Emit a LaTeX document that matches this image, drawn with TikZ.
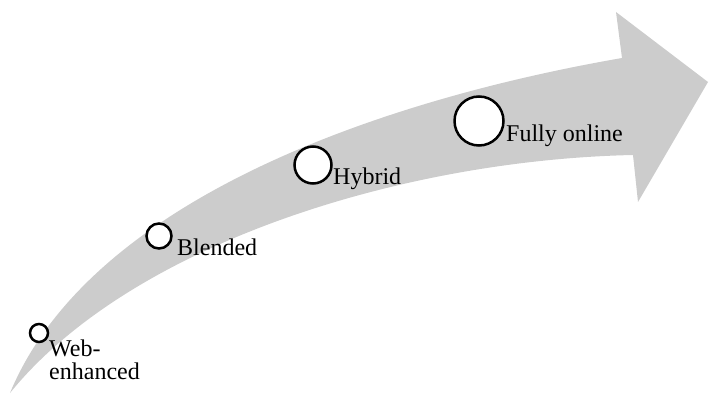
\documentclass[tikz,border=0pt]{standalone}
\usepackage{fontspec}
\setmainfont{Liberation Serif}
\definecolor{arrowgrey}{HTML}{CCCCCC}
\tikzset{
  stage/.style={circle, draw=black, line width=2.5pt, fill=white, inner sep=0pt},
  stagelabel/.style={anchor=base west, inner sep=0pt, font=\fontsize{24}{23}\selectfont},
}
\begin{document}
\begin{tikzpicture}[x=1pt, y=-1pt]
  \useasboundingbox (0,0) rectangle (709,395);
  % curved arrow
  \fill[arrowgrey] (10,393) .. controls (90,200) and (380,100) .. (622,58)
     -- (616,12) -- (708,82) -- (638,202) -- (633,155)
     .. controls (400,160) and (130,245) .. (10,393) -- cycle;
  % stages
  \node[stage, minimum size=18pt] (c1) at (39,333) {};
  \node[stage, minimum size=25pt] (c2) at (159,236) {};
  \node[stage, minimum size=37pt] (c3) at (313,165) {};
  \node[stage, minimum size=49pt] (c4) at (479,121) {};
  % labels
  \node[stagelabel] (l1a) at (49,356) {Web-};
  \node[stagelabel] (l1b) at (49,379) {enhanced};
  \node[stagelabel] (l2) at (177,256) {Blended};
  \node[stagelabel] (l3) at (333,185) {Hybrid};
  \node[stagelabel] (l4) at (506,142) {Fully online};
\end{tikzpicture}
\end{document}
